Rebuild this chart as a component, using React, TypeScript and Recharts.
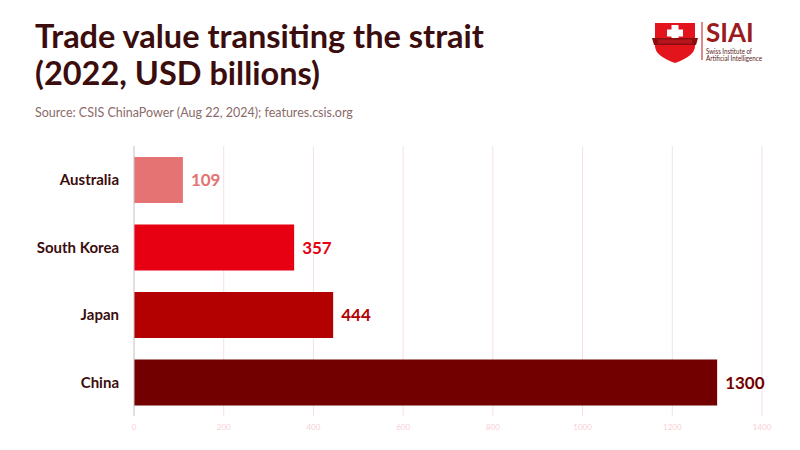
import { Bar, BarChart, CartesianGrid, Cell, LabelList, XAxis, YAxis } from "recharts";

const countries = ["Australia", "South Korea", "Japan", "China"];
const tradeValues = [109, 357, 444, 1300];
const barColors = ["#e57373", "#e60012", "#b30000", "#730000"];
const xTicks = [0, 200, 400, 600, 800, 1000, 1200, 1400];

const data = countries.map((c, i) => ({ country: c, value: tradeValues[i] }));

const FONT = "Lato, 'Noto Sans', sans-serif";

function Logo() {
  return (
    <svg width={130} height={54} viewBox="0 0 130 54" style={{ position: "absolute", left: 646, top: 12 }}>
      <g transform="translate(0,6)">
        <path d="M9 5 L49 5 L49 28 Q49 38 29 45 Q9 38 9 28 Z" fill="#e3141c" />
        <rect x={25.5} y={7} width={7} height={16} fill="#fff" />
        <rect x={21} y={11.5} width={16} height={7} fill="#fff" />
        <path d="M6 20 L52 20 L50 27 L8 27 Z" fill="#8a0d12" />
        <rect x={12} y={21.5} width={34} height={4} fill="#b5151b" />
        <line x1={56} y1={4} x2={56} y2={42} stroke="#b5151b" strokeWidth={1} />
        <text x={60} y={24} fontFamily={FONT} fontWeight={700} fontSize={26} fill="#9b1b1f">
          SIAI
        </text>
        <text x={60} y={36} fontFamily={FONT} fontSize={7} fill="#5a1a1a" textLength={46} lengthAdjust="spacingAndGlyphs">
          Swiss Institute of
        </text>
        <text x={60} y={43} fontFamily={FONT} fontSize={7} fill="#5a1a1a" textLength={56} lengthAdjust="spacingAndGlyphs">
          Artificial Intelligence
        </text>
      </g>
    </svg>
  );
}

function ValueLabel(props: any) {
  const { x, y, width, height, value, index } = props;
  return (
    <text
      x={x + width + 8}
      y={y + height / 2}
      dy={6}
      fontFamily={FONT}
      fontWeight={700}
      fontSize={17}
      fill={barColors[index]}
    >
      {value}
    </text>
  );
}

export default function App() {
  return (
    <div
      style={{
        position: "fixed",
        left: 0,
        top: 0,
        width: 800,
        height: 450,
        background: "#fff",
        fontFamily: FONT,
        overflow: "hidden",
      }}
    >
      <div
        style={{
          position: "absolute",
          left: 35,
          top: 17,
          fontSize: 32.5,
          fontWeight: 700,
          lineHeight: "37px",
          color: "#3b0d0d",
        }}
      >
        Trade value transiting the strait
        <br />
        (2022, USD billions)
      </div>
      <div style={{ position: "absolute", left: 35, top: 105, fontSize: 12.5, color: "#8a6a6a" }}>
        Source: CSIS ChinaPower (Aug 22, 2024); features.csis.org
      </div>
      <Logo />
      <div style={{ position: "absolute", left: 0, top: 0 }}>
        <BarChart
          width={800}
          height={450}
          data={data}
          layout="vertical"
          margin={{ top: 146, right: 38, bottom: 0, left: 0 }}
        >
          <CartesianGrid horizontal={false} stroke="#f3e1e5" />
          <XAxis
            type="number"
            domain={[0, 1400]}
            ticks={xTicks}
            height={34}
            axisLine={false}
            tickLine={false}
            tick={{ fill: "#f7cfd5", fontSize: 8, fontFamily: FONT }}
          />
          <YAxis
            type="category"
            dataKey="country"
            width={134}
            axisLine={{ stroke: "#cccccc" }}
            tickLine={false}
            tickMargin={9}
            tick={{ fill: "#3b0d0d", fontSize: 15, fontWeight: 700, fontFamily: FONT }}
          />
          <Bar dataKey="value" barSize={46} isAnimationActive={false}>
            {data.map((d, i) => (
              <Cell key={d.country} fill={barColors[i]} />
            ))}
            <LabelList dataKey="value" content={ValueLabel} />
          </Bar>
        </BarChart>
      </div>
    </div>
  );
}
